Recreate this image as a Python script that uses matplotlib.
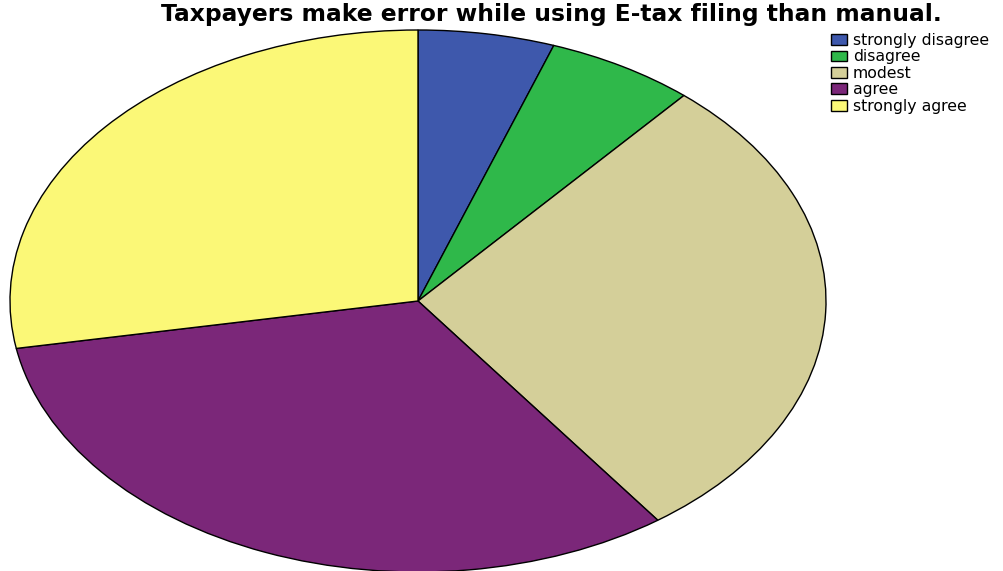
import matplotlib.pyplot as plt

# response shares (percent)
LABELS = ["strongly disagree", "disagree", "modest", "agree", "strongly agree"]
SHARES = [5.4, 5.9, 28.7, 32.2, 27.8]
COLORS = ["#3e58ac", "#2fb84a", "#d4cf99", "#7b2779", "#fbf877"]

TITLE = "Taxpayers make error while using E-tax filing than manual."

# source text is stretched sideways; the wider DejaVu glyphs get closer to it
plt.rcParams["font.family"] = ["DejaVu Sans"]

fig = plt.figure(figsize=(10.04, 5.71), dpi=100, facecolor="white")

# the pie in the source is stretched into an ellipse, so the axes
# box is not square and the aspect is left free
ax = fig.add_axes([10 / 1004, -1 / 571, 816 / 1004, 542 / 571])
wedges, _ = ax.pie(SHARES, colors=COLORS, startangle=90, counterclock=False,
                   wedgeprops={"edgecolor": "black", "linewidth": 1.0})
ax.set_aspect("auto")
ax.set_xlim(-1.0, 1.0)
ax.set_ylim(-1.0, 1.0)
ax.axis("off")

fig.text(551 / 1004, 1 - 15 / 571, TITLE, ha="center", va="center",
         fontsize=16.8, fontweight="bold")

fig.legend(wedges, LABELS, loc="upper left",
           bbox_to_anchor=(831 / 1004, 1 - 33 / 571),
           frameon=False, fontsize=11.3, handlelength=1.0, handleheight=0.68,
           handletextpad=0.4, labelspacing=0.09, borderpad=0.0,
           borderaxespad=0.0)

fig.savefig("out.png", dpi=100, facecolor="white")
